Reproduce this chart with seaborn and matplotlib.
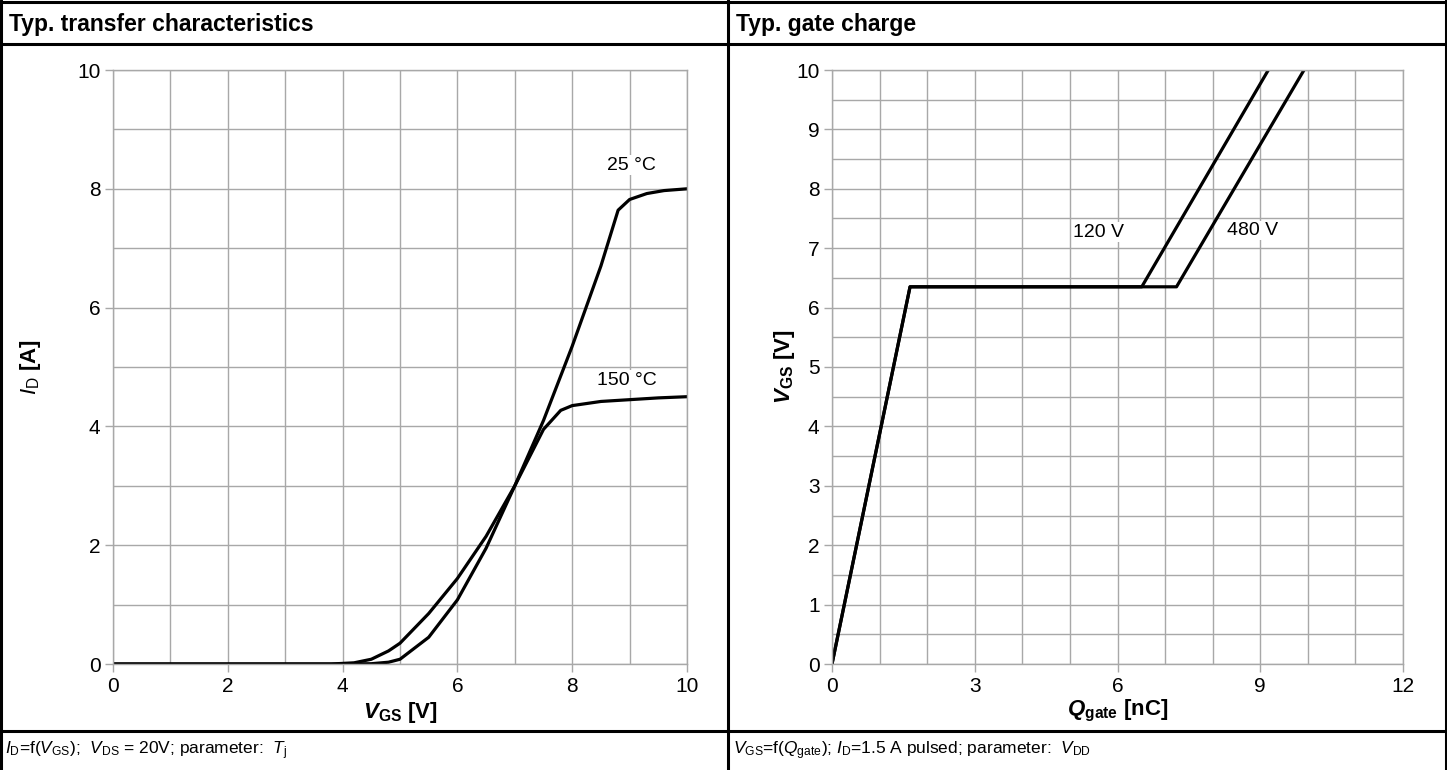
import numpy as np
import pandas as pd
import seaborn as sns
import matplotlib.pyplot as plt
from matplotlib.lines import Line2D
from matplotlib.ticker import MultipleLocator

# transfer characteristics
vgs = [0, 4.0, 4.5, 4.8, 5.0, 5.5, 6.0, 6.5, 7.0, 7.5, 8.0, 8.5, 8.8, 9.0, 9.3, 9.6, 10.0]
id_25 = [0, 0, 0.005, 0.03, 0.08, 0.45, 1.08, 1.95, 3.0, 4.1, 5.35, 6.7, 7.64, 7.82, 7.92, 7.97, 8.0]
vgs_150 = [0, 3.8, 4.2, 4.5, 4.8, 5.0, 5.5, 6.0, 6.5, 7.0, 7.5, 7.8, 8.0, 8.5, 9.0, 9.5, 10.0]
id_150 = [0, 0, 0.02, 0.08, 0.22, 0.35, 0.85, 1.44, 2.15, 3.0, 3.95, 4.27, 4.35, 4.42, 4.45, 4.48, 4.5]

# gate charge
q_120 = [0, 1.64, 6.51, 9.17]
v_120 = [0, 6.35, 6.35, 10.0]
q_480 = [0, 1.64, 7.24, 9.92]
v_480 = [0, 6.35, 6.35, 10.0]

sns.set_style("white")
plt.rcParams['font.family'] = ['Liberation Sans', 'DejaVu Sans']
plt.rcParams['mathtext.fontset'] = 'custom'
plt.rcParams['mathtext.rm'] = 'Liberation Sans'
plt.rcParams['mathtext.it'] = 'Liberation Sans:italic'
plt.rcParams['mathtext.bf'] = 'Liberation Sans:bold'
plt.rcParams['mathtext.bfit'] = 'Liberation Sans:italic:bold'
plt.rcParams['text.color'] = 'black'
plt.rcParams['axes.labelcolor'] = 'black'
plt.rcParams['xtick.labelcolor'] = 'black'
plt.rcParams['ytick.labelcolor'] = 'black'

W, H = 1447, 770
fig = plt.figure(figsize=(W / 100, H / 100), dpi=100)

grid_c = '#a8a8a8'


def style_axes(ax):
    ax.grid(True, which='both', color=grid_c, lw=1)
    ax.set_axisbelow(True)
    for s in ax.spines.values():
        s.set_color(grid_c)
        s.set_linewidth(1)
    ax.tick_params(which='major', length=6, width=1, color=grid_c, labelcolor='black',
                   labelsize=15, pad=3, left=True, bottom=True)
    ax.tick_params(which='minor', length=0)


def fx(px):
    return px / W


def fy(py):
    return 1 - py / H


# left chart
ax1 = fig.add_axes([fx(113), fy(664), fx(687) - fx(113), fy(70) - fy(664)])
df1 = pd.DataFrame({"x": vgs, "y": id_25})
df2 = pd.DataFrame({"x": vgs_150, "y": id_150})
sns.lineplot(data=df1, x="x", y="y", ax=ax1, color='black', lw=2.3, sort=False)
sns.lineplot(data=df2, x="x", y="y", ax=ax1, color='black', lw=2.3, sort=False)
ax1.set_xlim(0, 10)
ax1.set_ylim(0, 10)
ax1.xaxis.set_major_locator(MultipleLocator(2))
ax1.xaxis.set_minor_locator(MultipleLocator(1))
ax1.yaxis.set_major_locator(MultipleLocator(2))
ax1.yaxis.set_minor_locator(MultipleLocator(1))
style_axes(ax1)
ax1.set_xlabel(r"$\mathbfit{V}_{\mathbf{GS}}$ [V]", fontsize=16, fontweight='bold')
ax1.set_ylabel(r"$\mathit{I}_{\mathrm{D}}$ [A]", fontsize=16, fontweight='bold')
ax1.xaxis.set_label_coords(0.5, (664 - 700) / 594)
ax1.yaxis.set_label_coords((43 - 113) / 574, 0.5)
bb = dict(facecolor='white', edgecolor='none', pad=1)
ax1.text(9.04, 8.4, "25 °C", ha='center', va='center', fontsize=14, bbox=bb)
ax1.text(8.95, 4.78, "150 °C", ha='center', va='center', fontsize=14, bbox=bb)

# right chart
ax2 = fig.add_axes([fx(832), fy(664), fx(1403) - fx(832), fy(70) - fy(664)])
df3 = pd.DataFrame({"x": q_120, "y": v_120})
df4 = pd.DataFrame({"x": q_480, "y": v_480})
sns.lineplot(data=df4, x="x", y="y", ax=ax2, color='black', lw=2.3, sort=False)
sns.lineplot(data=df3, x="x", y="y", ax=ax2, color='black', lw=2.3, sort=False)
ax2.set_xlim(0, 12)
ax2.set_ylim(0, 10)
ax2.xaxis.set_major_locator(MultipleLocator(3))
ax2.xaxis.set_minor_locator(MultipleLocator(1))
ax2.yaxis.set_major_locator(MultipleLocator(1))
ax2.yaxis.set_minor_locator(MultipleLocator(0.5))
style_axes(ax2)
ax2.set_xlabel(r"$\mathbfit{Q}_{\mathbf{gate}}$ [nC]", fontsize=16, fontweight='bold')
ax2.set_ylabel(r"$\mathbfit{V}_{\mathbf{GS}}$ [V]", fontsize=16, fontweight='bold')
ax2.xaxis.set_label_coords(0.5, (664 - 698) / 594)
ax2.yaxis.set_label_coords((797 - 832) / 571, 0.5)
ax2.text(5.61, 7.27, "120 V", ha='center', va='center', fontsize=14, bbox=bb)
ax2.text(8.83, 7.3, "480 V", ha='center', va='center', fontsize=14, bbox=bb)

# frame lines
lw = 2.2
for (x0, y0, x1, y1) in [(0, 2, W, 2), (0, 44, W, 44), (0, 731, W, 731),
                         (1, 0, 1, H), (W - 1, 0, W - 1, H), (728, 0, 728, H)]:
    fig.add_artist(Line2D([fx(x0), fx(x1)], [fy(y0), fy(y1)], color='black', lw=lw))

# headers and captions
fig.text(fx(9), fy(25), "Typ. transfer characteristics", fontsize=16.5, fontweight='bold', va='center')
fig.text(fx(736), fy(25), "Typ. gate charge", fontsize=16.5, fontweight='bold', va='center')
fig.text(fx(5), fy(751),
         r"$I_{\mathrm{D}}$=f($V_{\mathrm{GS}}$);  $V_{\mathrm{DS}}$ = 20V; parameter:  $T_{\mathrm{j}}$",
         fontsize=12.5, va='center')
fig.text(fx(733), fy(751),
         r"$V_{\mathrm{GS}}$=f($Q_{\mathrm{gate}}$); $I_{\mathrm{D}}$=1.5 A pulsed; parameter:  $V_{\mathrm{DD}}$",
         fontsize=12.5, va='center')

fig.savefig("out.png", dpi=100)
